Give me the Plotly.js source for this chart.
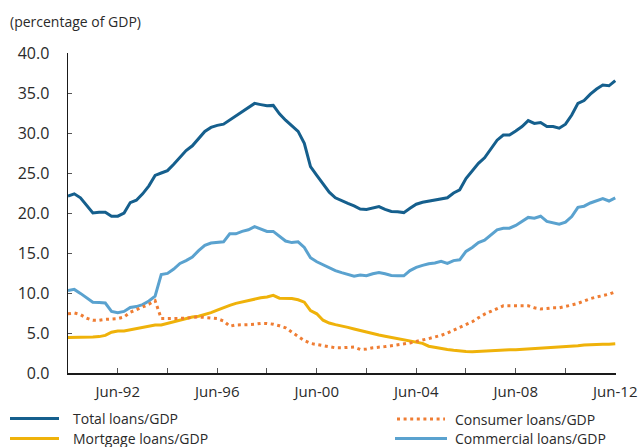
<!DOCTYPE html>
<html>
<head>
<meta charset="utf-8">
<script src="https://cdn.plot.ly/plotly-3.0.1.min.js"></script>
<style>
  html, body { margin: 0; padding: 0; background: #ffffff; }
  #chart { width: 640px; height: 447px; }
</style>
</head>
<body>
<div id="chart"></div>
<script>
// Quarterly observations, Jun-90 to Jun-12
const startYear = 1990;
const startMonth = 6;

const totalLoans = [
  22.1, 22.4, 21.9, 20.9, 20.0, 20.1, 20.1, 19.6, 19.6, 20.0,
  21.3, 21.6, 22.4, 23.4, 24.7, 25.0, 25.3, 26.1, 27.0, 27.8,
  28.4, 29.3, 30.2, 30.7, 30.95, 31.1, 31.6, 32.1, 32.6, 33.1,
  33.7, 33.55, 33.4, 33.45, 32.4, 31.6, 30.9, 30.2, 28.7, 25.8,
  24.7, 23.7, 22.6, 21.9, 21.5, 21.2, 20.9, 20.5, 20.45, 20.65,
  20.8, 20.45, 20.2, 20.15, 20.05, 20.6, 21.1, 21.35, 21.5, 21.65,
  21.8, 21.9, 22.5, 22.9, 24.3, 25.2, 26.2, 26.9, 28.0, 29.1,
  29.75, 29.75, 30.25, 30.8, 31.55, 31.2, 31.3, 30.8, 30.8, 30.6,
  31.1, 32.25, 33.7, 34.05, 34.85, 35.5, 36.0, 35.9, 36.55
];

const commercialLoans = [
  10.3, 10.45, 9.95, 9.4, 8.85, 8.8, 8.75, 7.7, 7.55, 7.7,
  8.2, 8.3, 8.55, 9.0, 9.6, 12.3, 12.45, 13.0, 13.7, 14.05,
  14.5, 15.3, 15.95, 16.25, 16.35, 16.4, 17.4, 17.4, 17.7, 17.9,
  18.3, 18.0, 17.7, 17.7, 17.1, 16.5, 16.3, 16.4, 15.7, 14.4,
  13.9, 13.5, 13.1, 12.8, 12.55, 12.3, 12.1, 12.25, 12.15, 12.4,
  12.55, 12.4, 12.2, 12.15, 12.15, 12.8, 13.2, 13.45, 13.65, 13.75,
  13.95, 13.7, 14.05, 14.15, 15.2, 15.7, 16.3, 16.6, 17.2, 17.9,
  18.1, 18.1, 18.45, 18.95, 19.45, 19.35, 19.6, 18.95, 18.8, 18.6,
  18.85, 19.55, 20.7, 20.85, 21.25, 21.55, 21.8, 21.5, 21.9
];

const mortgageLoans = [
  4.45, 4.45, 4.45, 4.45, 4.5, 4.55, 4.7, 5.1, 5.25, 5.25,
  5.4, 5.5, 5.65, 5.85, 6.0, 6.0, 6.2, 6.4, 6.55, 6.75,
  7.0, 7.1, 7.3, 7.55, 7.85, 8.2, 8.45, 8.7, 8.9, 9.1,
  9.3, 9.4, 9.5, 9.7, 9.35, 9.3, 9.3, 9.15, 8.85, 7.8,
  7.4, 6.6, 6.25, 6.05, 5.9, 5.7, 5.5, 5.3, 5.15, 4.9,
  4.75, 4.6, 4.45, 4.25, 4.1, 3.95, 3.85, 3.7, 3.35, 3.2,
  3.1, 2.95, 2.85, 2.75, 2.7, 2.65, 2.7, 2.75, 2.8, 2.8,
  2.85, 2.9, 2.9, 2.95, 2.95, 3.0, 3.05, 3.1, 3.15, 3.2,
  3.3, 3.35, 3.4, 3.5, 3.55, 3.55, 3.6, 3.6, 3.65
];

const consumerLoans = [
  7.4, 7.5, 7.3, 6.85, 6.6, 6.6, 6.7, 6.75, 6.8, 7.0,
  7.6, 7.9, 8.25, 8.6, 9.05, 6.8, 6.8, 6.8, 6.8, 6.85,
  6.95, 7.0, 6.95, 6.85, 6.8, 6.5, 5.85, 6.0, 6.0, 6.05,
  6.1, 6.2, 6.2, 6.1, 5.9, 5.65, 5.1, 4.6, 4.05, 3.7,
  3.55, 3.45, 3.3, 3.15, 3.15, 3.2, 3.25, 2.95, 3.0, 3.15,
  3.2, 3.3, 3.4, 3.5, 3.6, 3.75, 3.95, 4.1, 4.3, 4.5,
  4.7, 5.0, 5.35, 5.7, 6.0, 6.4, 6.9, 7.35, 7.7, 8.1,
  8.4, 8.4, 8.4, 8.4, 8.4, 8.15, 8.0, 8.05, 8.15, 8.15,
  8.3, 8.5, 8.7, 9.0, 9.3, 9.5, 9.7, 9.85, 10.15
];

const seriesNames = ["Total loans/GDP", "Consumer loans/GDP", "Mortgage loans/GDP", "Commercial loans/GDP"];
const tickDates = ["1992-06-01","1994-06-01","1996-06-01","1998-06-01","2000-06-01","2002-06-01","2004-06-01","2006-06-01","2008-06-01","2010-06-01","2012-06-01"];
const tickLabels = ["Jun-92","","Jun-96","","Jun-00","","Jun-04","","Jun-08","","Jun-12"];
const yTicks = [0,5,10,15,20,25,30,35,40];

// quarter dates (category positions)
const quarters = totalLoans.map((_, i) => {
  const m = startMonth - 1 + 3 * i;
  const y = startYear + Math.floor(m / 12);
  const mm = (m % 12) + 1;
  return y + "-" + String(mm).padStart(2, "0") + "-01";
});

const colTotal = "#155f8d";
const colCommercial = "#5aa2cf";
const colMortgage = "#efb20a";
const colConsumer = "#ef7d33";
const FONT = "Open Sans, Lato, sans-serif";

const traces = [
  {x: quarters, y: commercialLoans, mode: "lines", name: seriesNames[3], line: {color: colCommercial, width: 3}},
  {x: quarters, y: mortgageLoans, mode: "lines", name: seriesNames[2], line: {color: colMortgage, width: 3}},
  {x: quarters, y: consumerLoans, mode: "lines", name: seriesNames[1], line: {color: colConsumer, width: 3, dash: "3px,3.6px"}},
  {x: quarters, y: totalLoans, mode: "lines", name: seriesNames[0], line: {color: colTotal, width: 3}}
];

// plot area geometry (pixels) for manual legend
const L = 68, T = 53, W = 548, H = 320;
const px = v => (v - L) / W;
const py = v => (T + H - v) / H;

const legendItems = [
  {name: seriesNames[0], color: colTotal, dash: "solid", x0: 10, x1: 59, y: 418.5, tx: 71},
  {name: seriesNames[2], color: colMortgage, dash: "solid", x0: 10, x1: 59, y: 438.5, tx: 71},
  {name: seriesNames[1], color: colConsumer, dash: "3px,3.6px", x0: 397, x1: 445, y: 419, tx: 453},
  {name: seriesNames[3], color: colCommercial, dash: "solid", x0: 395, x1: 447, y: 438.5, tx: 453}
];

const shapes = legendItems.map(it => ({
  type: "line", xref: "paper", yref: "paper",
  x0: px(it.x0), x1: px(it.x1), y0: py(it.y), y1: py(it.y),
  line: {color: it.color, width: 3, dash: it.dash}
}));

const annotations = legendItems.map(it => ({
  xref: "paper", yref: "paper", x: px(it.tx), y: py(it.y),
  xanchor: "left", yanchor: "middle", showarrow: false,
  text: it.name, font: {family: FONT, size: 14, color: "#2a2a2a"}
}));

const layout = {
  width: 640, height: 447,
  margin: {l: L, r: 640 - L - W, t: T, b: 447 - T - H, pad: 0},
  paper_bgcolor: "#ffffff", plot_bgcolor: "#ffffff",
  showlegend: false,
  title: {
    text: "(percentage of GDP)",
    xref: "container", yref: "container",
    x: 10 / 640, xanchor: "left",
    y: 1 - 22 / 447, yanchor: "middle",
    font: {family: FONT, size: 14, color: "#2a2a2a"}
  },
  xaxis: {
    type: "date",
    range: ["1990-06-01", "2012-06-12"],
    tickmode: "array", tickvals: tickDates, ticktext: tickLabels,
    ticks: "inside", ticklen: 5, tickwidth: 1, tickcolor: "#555555",
    showline: true, linecolor: "#1a1a1a", linewidth: 1.5,
    showgrid: false, zeroline: false,
    ticklabelstandoff: 4,
    tickfont: {family: FONT, size: 15, color: "#2a2a2a"}
  },
  yaxis: {
    range: [0, 40],
    tickmode: "array", tickvals: yTicks,
    tickformat: ".1f",
    ticks: "inside", ticklen: 4, tickwidth: 1, tickcolor: "#555555",
    showline: true, linecolor: "#1a1a1a", linewidth: 1.5,
    showgrid: false, zeroline: false,
    ticklabelstandoff: 14,
    tickfont: {family: FONT, size: 16, color: "#2a2a2a"}
  },
  shapes: shapes,
  annotations: annotations
};

Plotly.newPlot("chart", traces, layout, {displayModeBar: false, staticPlot: true});
</script>
</body>
</html>
